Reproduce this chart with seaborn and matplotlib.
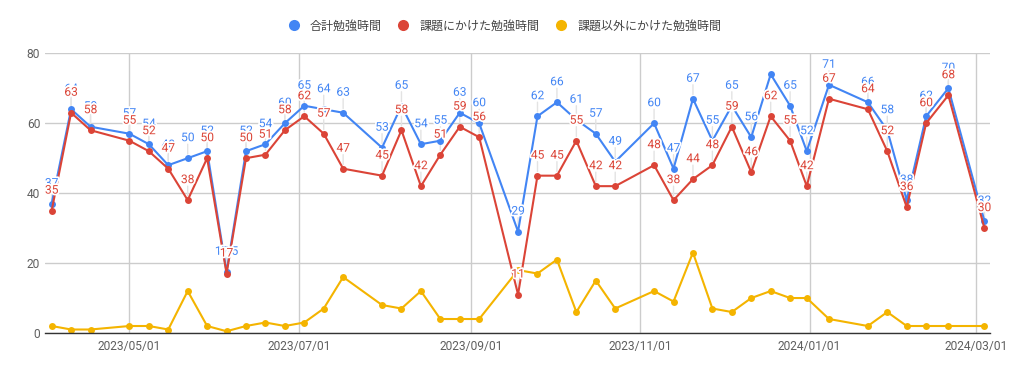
import matplotlib
matplotlib.use("Agg")
import matplotlib.pyplot as plt
import matplotlib.patheffects as pe
from matplotlib.lines import Line2D
import seaborn as sns
import pandas as pd
import numpy as np

# ---- data ----
dates = ["2023-04-03", "2023-04-10", "2023-04-17", "2023-05-01", "2023-05-08", "2023-05-15",
         "2023-05-22", "2023-05-29", "2023-06-05", "2023-06-12", "2023-06-19", "2023-06-26",
         "2023-07-03", "2023-07-10", "2023-07-17", "2023-07-31", "2023-08-07", "2023-08-14",
         "2023-08-21", "2023-08-28", "2023-09-04", "2023-09-18", "2023-09-25", "2023-10-02",
         "2023-10-09", "2023-10-16", "2023-10-23", "2023-11-06", "2023-11-13", "2023-11-20",
         "2023-11-27", "2023-12-04", "2023-12-11", "2023-12-18", "2023-12-25", "2023-12-31",
         "2024-01-08", "2024-01-22", "2024-01-29", "2024-02-05", "2024-02-12", "2024-02-20",
         "2024-03-04"]
total_hours = [37, 64, 59, 57, 54, 48, 50, 52, 17.5, 52, 54, 60, 65, 64, 63, 53, 65, 54, 55, 63,
               60, 29, 62, 66, 61, 57, 49, 60, 47, 67, 55, 65, 56, 74, 65, 52, 71, 66, 58, 38,
               62, 70, 32]
assignment_hours = [35, 63, 58, 55, 52, 47, 38, 50, 17, 50, 51, 58, 62, 57, 47, 45, 58, 42, 51, 59,
                    56, 11, 45, 45, 55, 42, 42, 48, 38, 44, 48, 59, 46, 62, 55, 42, 67, 64, 52, 36,
                    60, 68, 30]
other_hours = [2, 1, 1, 2, 2, 1, 12, 2, 0.5, 2, 3, 2, 3, 7, 16, 8, 7, 12, 4, 4,
               4, 18, 17, 21, 6, 15, 7, 12, 9, 23, 7, 6, 10, 12, 10, 10, 4, 2, 6, 2,
               2, 2, 2]
series_names = ["合計勉強時間", "課題にかけた勉強時間", "課題以外にかけた勉強時間"]
tick_dates = ["2023-05-01", "2023-07-01", "2023-09-01", "2023-11-01", "2024-01-01", "2024-03-01"]
y_ticks = [0, 20, 40, 60, 80]

colors = ["#4285F4", "#DB4437", "#F4B400"]

df = pd.DataFrame({
    "date": pd.to_datetime(dates),
    series_names[0]: total_hours,
    series_names[1]: assignment_hours,
    series_names[2]: other_hours,
})
long = df.melt(id_vars="date", var_name="series", value_name="hours")

sns.set_style("white")
plt.rcParams["font.family"] = ["Roboto", "Noto Sans CJK JP", "DejaVu Sans"]

fig = plt.figure(figsize=(10.09, 3.73), dpi=100)
ax = fig.add_axes([45 / 1009, 1 - 333 / 373, (990 - 45) / 1009, (333 - 53.3) / 373])

sns.lineplot(data=long, x="date", y="hours", hue="series", hue_order=series_names,
             palette=colors, marker="o", markersize=5, markeredgewidth=0,
             linewidth=1.5, legend=False, ax=ax, zorder=3)

y_max = 80
# labels whose box would leave the plot area are dropped (as in the reference)
label_room = 26 / ((333 - 53.3) / y_max)  # label height in data units

fmt = lambda v: str(int(v)) if float(v).is_integer() else str(v)
for name, col in zip(series_names[:2], colors[:2]):
    for d, v in zip(df["date"], df[name]):
        if v + label_room > y_max:
            continue
        ax.annotate("", xy=(d, v), xytext=(0, 14), textcoords="offset pixels",
                    arrowprops=dict(arrowstyle="-", color="#e3e3e3", lw=1,
                                    shrinkA=0, shrinkB=3), zorder=2)
for name, col in zip(series_names[:2], colors[:2]):
    for d, v in zip(df["date"], df[name]):
        if v + label_room > y_max:
            continue
        ax.annotate(fmt(v), xy=(d, v), xytext=(0, 17), textcoords="offset pixels",
                    ha="center", va="baseline", fontsize=8.64, color=col, zorder=6,
                    path_effects=[pe.withStroke(linewidth=2.5, foreground="white")])

# axes styling
left = pd.Timestamp("2023-05-01") - pd.Timedelta(days=30.4)
right = pd.Timestamp("2024-03-01") + pd.Timedelta(days=5.0)
ax.set_xlim(left, right)
ax.set_ylim(0, y_max)
ax.set_yticks(y_ticks)
ax.set_yticklabels([str(t) for t in y_ticks])
ticks = pd.to_datetime(tick_dates)
ax.set_xticks(ticks)
ax.set_xticklabels([t.strftime("%Y/%m/%d") for t in ticks])
ax.set_xlabel("")
ax.set_ylabel("")
ax.grid(True, color="#cccccc", linewidth=1)
ax.set_axisbelow(True)
for s in ["top", "right", "left"]:
    ax.spines[s].set_visible(False)
ax.spines["bottom"].set_color("#333333")
ax.spines["bottom"].set_linewidth(1)
ax.spines["bottom"].set_zorder(4)
ax.tick_params(axis="both", length=0, labelsize=8.64, labelcolor="#5f5f5f")
ax.tick_params(axis="y", pad=3.5)
ax.tick_params(axis="x", pad=5)

handles = [Line2D([], [], linestyle="none", marker="o", markersize=8, color=c,
                  markeredgewidth=0) for c in colors]
fig.legend(handles, series_names, loc="center", bbox_to_anchor=(0.5, 1 - 26 / 373),
           ncol=3, frameon=False, fontsize=8.64, handlelength=1.0, handletextpad=0.85,
           columnspacing=1.3, labelcolor="#444444")

fig.savefig("out.png", dpi=100)
